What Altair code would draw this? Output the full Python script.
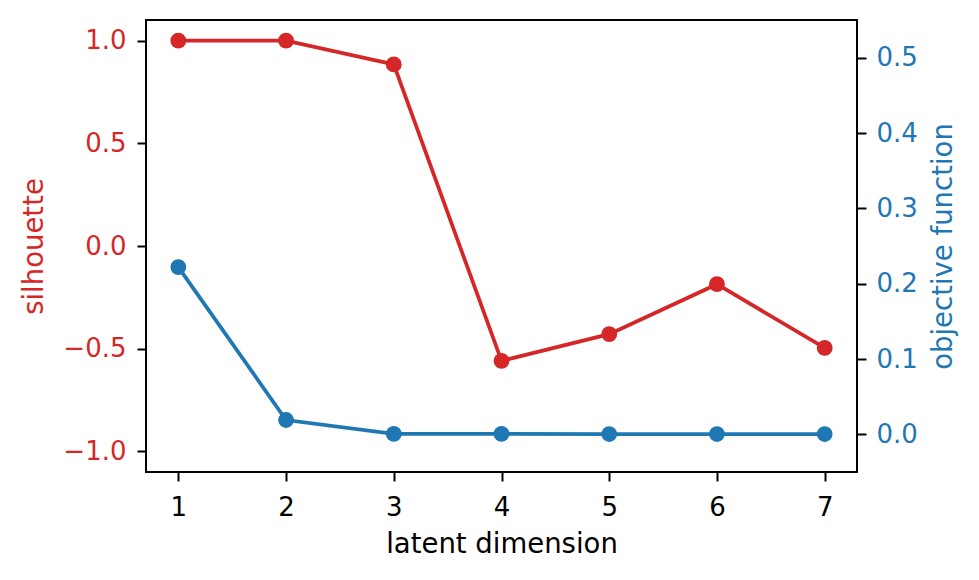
import altair as alt
import pandas as pd

dims = [1, 2, 3, 4, 5, 6, 7]
silhouette = [1.0, 1.0, 0.884, -0.559, -0.429, -0.186, -0.496]
objective = [0.222, 0.019, 0.0005, 0.0005, 0.0004, 0.0004, 0.0004]

df = pd.DataFrame({"dim": dims, "sil": silhouette, "obj": objective})

RED = "#d62728"
BLUE = "#1f77b4"
FONT = "DejaVu Sans"
LFS = 26
TFS = 27.5

x = alt.X("dim:Q", scale=alt.Scale(domain=[0.7, 7.3], nice=False, zero=False),
          axis=alt.Axis(title="latent dimension", values=dims, format="d",
                        grid=False, domain=False, tickSize=9, tickWidth=2,
                        tickColor="black", labelColor="black", titleColor="black",
                        labelFontSize=LFS, titleFontSize=TFS, labelFont=FONT, titleFont=FONT,
                        titleFontWeight="normal", labelPadding=13, titlePadding=10))

base = alt.Chart(df)

red_axis = alt.Axis(title="silhouette", orient="left", values=[-1.0, -0.5, 0.0, 0.5, 1.0],
                    labelExpr="replace(format(datum.value, '.1f'), '-', '\u2212')",
                    grid=False, domain=False, tickSize=9, tickWidth=2, tickColor="black",
                    labelColor=RED, titleColor=RED, labelFontSize=LFS, titleFontSize=TFS,
                    labelFont=FONT, titleFont=FONT, titleFontWeight="normal",
                    labelPadding=11, titlePadding=14)
blue_axis = alt.Axis(title="objective function", orient="right",
                     values=[0.0, 0.1, 0.2, 0.3, 0.4, 0.5], format=".1f",
                     grid=False, domain=False, tickSize=9, tickWidth=2, tickColor="black",
                     labelColor=BLUE, titleColor=BLUE, labelFontSize=LFS, titleFontSize=TFS,
                     labelFont=FONT, titleFont=FONT, titleFontWeight="normal",
                     labelPadding=10, titlePadding=12, titleAngle=270, titleBaseline="top")

ysil = alt.Y("sil:Q", scale=alt.Scale(domain=[-1.1, 1.1], nice=False, zero=False), axis=red_axis)
yobj = alt.Y("obj:Q", scale=alt.Scale(domain=[-0.05, 0.55], nice=False, zero=False), axis=blue_axis)

red = base.mark_line(color=RED, strokeWidth=3.75, point=alt.OverlayMarkDef(filled=True, color=RED, size=250, opacity=1)).encode(x=x, y=ysil)
blue = base.mark_line(color=BLUE, strokeWidth=3.75, point=alt.OverlayMarkDef(filled=True, color=BLUE, size=250, opacity=1)).encode(x=x, y=yobj)

chart = alt.layer(red, blue).resolve_scale(y="independent").properties(
    width=711, height=452,
    autosize=alt.AutoSizeParams(type="none"),
    padding={"left": 138, "top": 12, "right": 110, "bottom": 96},
).configure(background="white").configure_view(stroke="black", strokeWidth=2)

chart.save("out.html", embed_options={"renderer": "svg", "actions": False})
